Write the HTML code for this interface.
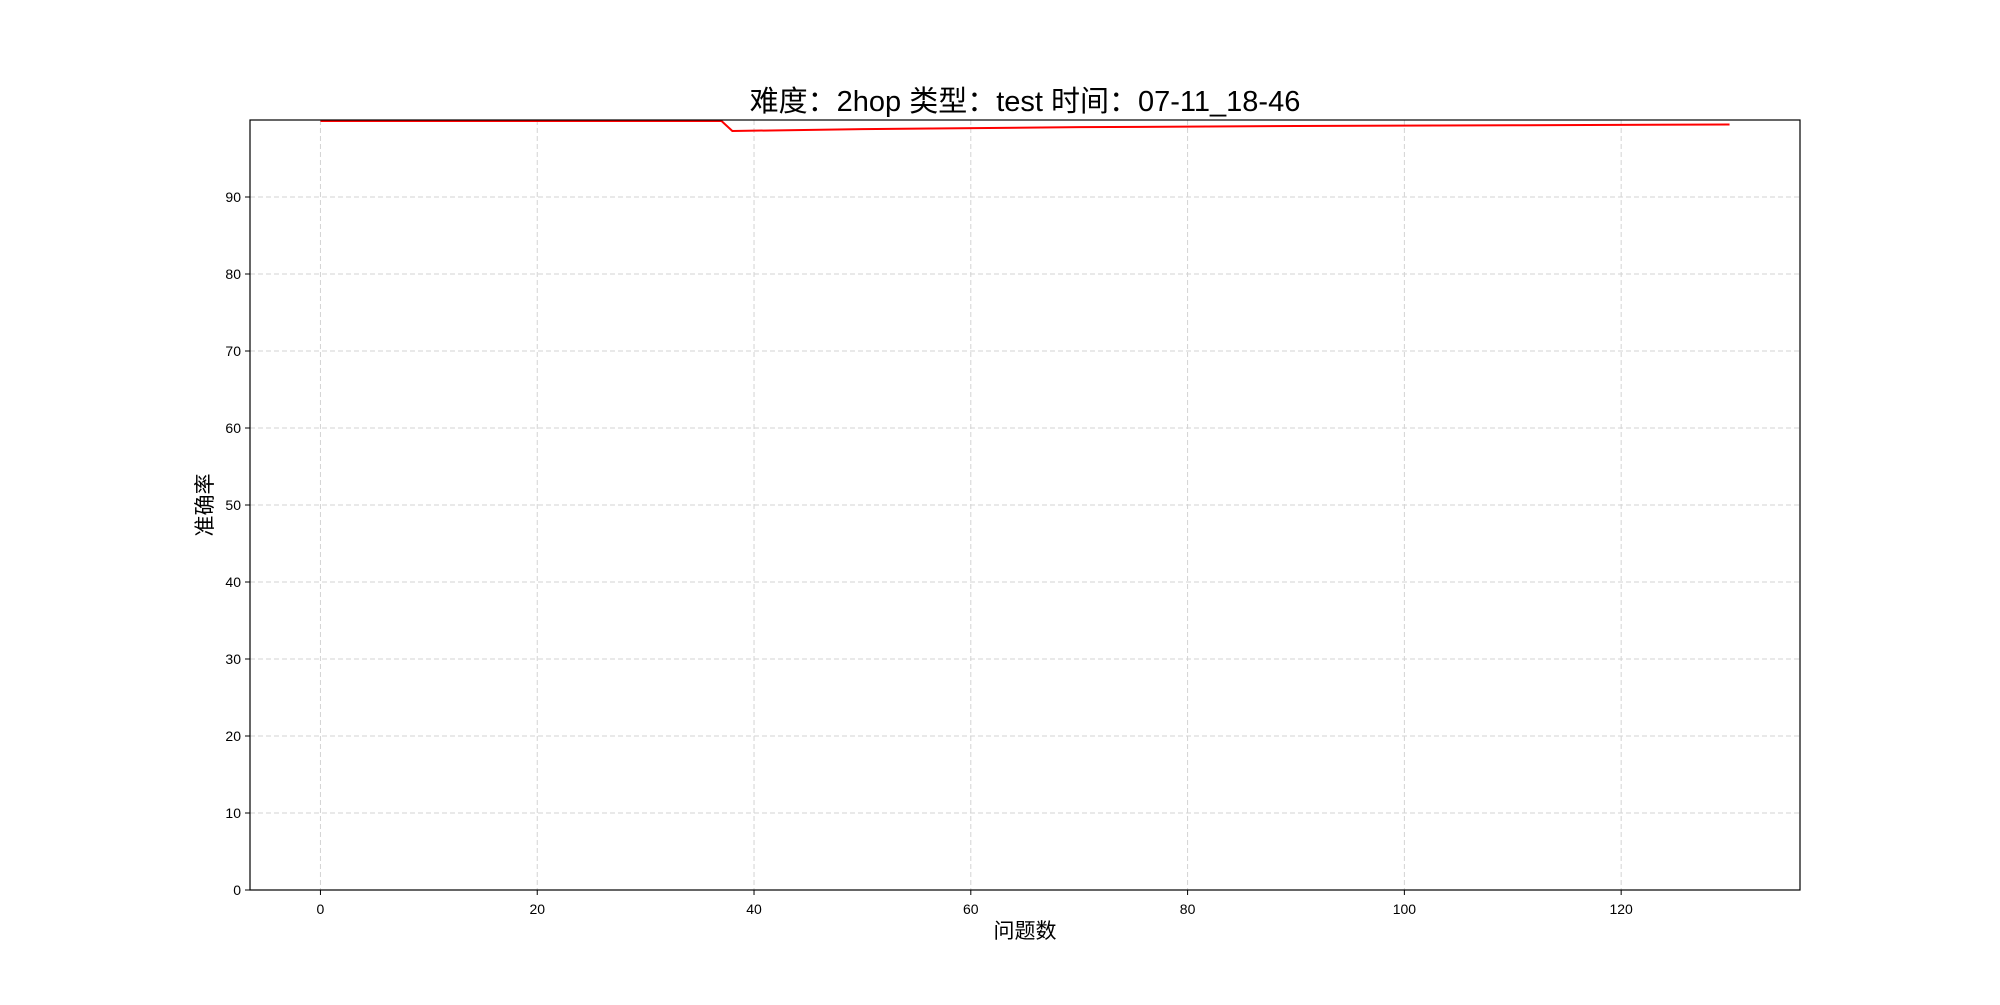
<!DOCTYPE html>
<html><head><meta charset="utf-8">
<style>
html,body{margin:0;padding:0;background:#fff;}
svg text{font-family:"Liberation Sans","Noto Sans CJK SC",sans-serif;fill:#000;}
</style></head>
<body>
<svg id="chart" width="2000" height="1000" xmlns="http://www.w3.org/2000/svg"></svg>
<script>
const xValues = [0, 37, 38, 50, 70, 90, 110, 130];
const yValues = [100, 100, 98.7, 98.95, 99.2, 99.35, 99.45, 99.55];
const xTicks = [0, 20, 40, 60, 80, 100, 120];
const yTicks = [0, 10, 20, 30, 40, 50, 60, 70, 80, 90];

const L = 250, R = 1800, T = 120, B = 890;
const xmin = -6.5, xmax = 136.5, ymin = 0, ymax = 100;
const sx = v => L + (v - xmin) / (xmax - xmin) * (R - L);
const sy = v => B - (v - ymin) / (ymax - ymin) * (B - T);
const svg = document.getElementById('chart');
const NS = 'http://www.w3.org/2000/svg';
function mk(tag, attrs, parent) {
  const e = document.createElementNS(NS, tag);
  for (const k in attrs) e.setAttribute(k, attrs[k]);
  (parent || svg).appendChild(e);
  return e;
}
const grid = mk('g', {});


xTicks.forEach(t => {
  const l = mk('line', {x1: sx(t), x2: sx(t), y1: T, y2: B, stroke: '#d3d3d3', 'stroke-width': 1, 'stroke-dasharray': '5,3'}, grid);
  
  
  const tk = mk('line', {x1: sx(t), x2: sx(t), y1: B, y2: B + 5, stroke: '#000'});
  
  
  const tx = mk('text', {x: sx(t), y: B + 24, 'text-anchor': 'middle', 'font-size': 14});
  tx.textContent = t;
  
  
});
yTicks.forEach(t => {
  const l = mk('line', {x1: L, x2: R, y1: sy(t), y2: sy(t), stroke: '#d3d3d3', 'stroke-width': 1, 'stroke-dasharray': '5,3'}, grid);
  
  
  const tk = mk('line', {x1: L - 5, x2: L, y1: sy(t), y2: sy(t), stroke: '#000'});
  
  
  const tx = mk('text', {x: L - 9, y: sy(t) + 5, 'text-anchor': 'end', 'font-size': 14});
  tx.textContent = t;
  
  
});
const pts = xValues.map((x, i) => sx(x) + ',' + (sy(yValues[i]) + 1)).join(' ');
const line = mk('polyline', {points: pts, fill: 'none', stroke: '#ff0000', 'stroke-width': 2});


const frame = mk('rect', {x: L, y: T, width: R - L, height: B - T, fill: 'none', stroke: '#000', 'stroke-width': 1.2});


const title = mk('text', {x: (L + R) / 2, y: 111, 'text-anchor': 'middle', 'font-size': 29});
title.textContent = '难度：2hop 类型：test 时间：07-11_18-46';


const xl = mk('text', {x: (L + R) / 2, y: 938, 'text-anchor': 'middle', 'font-size': 21});
xl.textContent = '问题数';


const yl = mk('text', {x: 0, y: 0, 'text-anchor': 'middle', 'font-size': 21, transform: 'translate(212,505) rotate(-90)'});
yl.textContent = '准确率';


</script>
</body></html>
